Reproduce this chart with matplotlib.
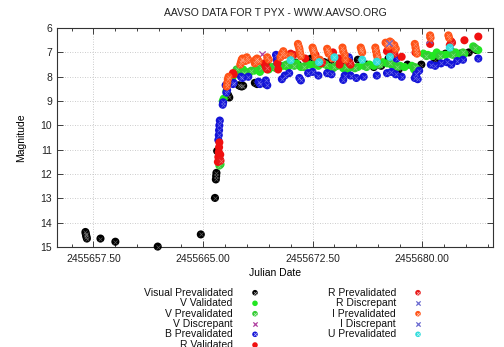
import matplotlib
matplotlib.use("Agg")
import matplotlib.pyplot as plt
from matplotlib.ticker import MultipleLocator, FormatStrFormatter

plt.rcParams['font.family'] = ['Liberation Sans', 'DejaVu Sans']

# Visual Prevalidated (black)
vis_jd = [2455656.95, 2455656.97, 2455657.0, 2455657.02, 2455657.05, 2455657.98, 2455659.0,
          2455661.9, 2455664.85, 2455665.82, 2455665.88, 2455665.9, 2455665.92, 2455665.97,
          2455666.72, 2455666.8, 2455667.45, 2455667.55, 2455667.65, 2455667.75, 2455668.55,
          2455668.7, 2455669.3, 2455669.5, 2455670.2, 2455670.8, 2455671.35, 2455671.5,
          2455672.4, 2455672.6, 2455673.3, 2455673.8, 2455674.3, 2455674.7, 2455675.6,
          2455676.2, 2455676.7, 2455677.2, 2455677.7, 2455678.4, 2455679.0, 2455679.95,
          2455680.9, 2455681.6, 2455682.0, 2455682.6, 2455683.2, 2455683.7]
vis_mag = [14.38, 14.45, 14.52, 14.58, 14.65, 14.65, 14.78,
           14.98, 14.48, 12.98, 12.22, 12.08, 11.95, 11.05,
           8.75, 8.85, 8.35, 8.38, 8.4, 8.37, 8.25,
           8.3, 8.3, 7.6, 7.55, 7.5, 7.42, 7.5,
           7.25, 7.35, 7.4, 7.3, 7.5, 7.45, 7.3,
           7.5, 7.6, 7.55, 7.25, 7.7, 7.5, 7.5,
           7.3, 7.05, 6.95, 7.05, 7.0, 6.9]

# V Validated (green)
vval_jd = [2455666.1, 2455666.2, 2455666.35, 2455666.42, 2455666.6, 2455667.0, 2455667.2,
           2455667.35, 2455667.55, 2455667.75, 2455667.95, 2455668.15, 2455668.5, 2455668.7,
           2455668.9, 2455669.2, 2455669.5, 2455669.75, 2455670.0, 2455670.3, 2455670.5,
           2455670.8, 2455671.1, 2455671.4, 2455671.7, 2455672.0, 2455672.3, 2455672.6,
           2455672.9, 2455673.2, 2455673.6, 2455673.9, 2455674.2, 2455674.6, 2455674.9,
           2455675.2, 2455675.6, 2455676.0, 2455676.4, 2455676.7, 2455677.0, 2455677.3,
           2455677.6, 2455677.9, 2455678.2, 2455678.5, 2455678.8, 2455679.3, 2455679.45,
           2455679.6, 2455680.1, 2455680.4, 2455680.7, 2455681.0, 2455681.3, 2455681.6,
           2455681.9, 2455682.3, 2455682.6, 2455682.9, 2455683.5, 2455683.7, 2455683.85]
vval_mag = [11.5, 11.6, 9.0, 8.9, 8.6, 8.05, 7.9,
            7.8, 7.75, 7.7, 7.8, 7.85, 7.75, 7.7,
            7.8, 7.65, 7.7, 7.6, 7.65, 7.55, 7.55,
            7.6, 7.5, 7.45, 7.6, 7.55, 7.5, 7.5,
            7.55, 7.45, 7.6, 7.65, 7.55, 7.65, 7.7,
            7.6, 7.6, 7.55, 7.5, 7.55, 7.45, 7.4,
            7.45, 7.5, 7.55, 7.55, 7.6, 7.55, 7.7,
            7.65, 7.05, 7.1, 7.15, 7.0, 7.1, 7.1,
            7.05, 7.0, 7.1, 7.05, 6.75, 6.85, 6.9]

# V Prevalidated (green, crossed)
vpre_jd = [2455666.12, 2455666.16, 2455667.3, 2455667.8, 2455668.3, 2455669.0, 2455669.9,
           2455670.7, 2455671.25, 2455671.9, 2455672.8, 2455673.4, 2455674.0, 2455674.8,
           2455675.4, 2455676.2, 2455677.1, 2455677.8, 2455678.3, 2455679.5, 2455680.3,
           2455681.2, 2455682.1, 2455682.8, 2455683.6]
vpre_mag = [11.65, 11.55, 7.7, 7.85, 7.75, 7.65, 7.6,
            7.5, 7.55, 7.6, 7.45, 7.5, 7.6, 7.6,
            7.65, 7.6, 7.5, 7.45, 7.6, 7.6, 7.15,
            7.15, 7.1, 7.0, 6.8]

# V Discrepant
vdis_jd = [2455669.05]
vdis_mag = [7.05]

# B Prevalidated (blue)
bpre_jd = [2455666.05, 2455666.08, 2455666.1, 2455666.12, 2455666.15, 2455666.35, 2455666.38,
           2455666.55, 2455666.6, 2455666.65, 2455667.05, 2455667.1, 2455667.6, 2455667.7,
           2455668.1, 2455668.8, 2455668.9, 2455669.3, 2455669.4, 2455670.0, 2455670.05,
           2455670.1, 2455670.4, 2455670.6, 2455670.9, 2455671.6, 2455671.7, 2455672.2,
           2455672.5, 2455672.9, 2455673.5, 2455673.8, 2455674.6, 2455674.7, 2455674.98,
           2455675.0, 2455675.1, 2455675.5, 2455676.0, 2455676.9, 2455677.6, 2455677.9,
           2455678.2, 2455678.25, 2455678.6, 2455679.5, 2455679.6, 2455679.7, 2455679.8,
           2455680.6, 2455680.9, 2455681.3, 2455681.7, 2455682.0, 2455682.4, 2455682.8,
           2455683.85]
bpre_mag = [10.6, 10.4, 10.2, 10.0, 9.8, 9.15, 9.05,
            8.35, 8.65, 8.55, 8.3, 8.25, 8.0, 8.05,
            8.0, 8.2, 8.3, 8.15, 8.35, 7.1, 7.3,
            7.45, 8.1, 7.95, 7.85, 8.05, 8.15, 7.85,
            7.8, 7.95, 7.85, 7.9, 8.13, 7.95, 7.2,
            7.3, 7.95, 8.05, 8.0, 7.95, 7.85, 7.8,
            7.9, 7.25, 8.0, 8.05, 7.9, 8.1, 7.75,
            7.5, 7.55, 7.45, 7.4, 7.5, 7.35, 7.3,
            7.25]

# R Validated (red)
rval_jd = [2455666.02, 2455666.05, 2455666.08, 2455666.1, 2455666.12, 2455666.15, 2455666.18,
           2455667.05, 2455667.1, 2455669.2, 2455669.3, 2455669.4, 2455670.1, 2455670.15,
           2455671.0, 2455671.2, 2455672.0, 2455672.7, 2455673.1, 2455673.9, 2455674.3,
           2455674.35, 2455675.0, 2455675.1, 2455677.6, 2455677.8, 2455677.9, 2455678.6,
           2455679.55, 2455680.55, 2455681.9, 2455682.0, 2455682.9, 2455683.85]
rval_mag = [11.5, 11.3, 11.1, 10.9, 10.7, 11.4, 11.2,
            7.85, 7.9, 7.45, 7.6, 7.7, 7.45, 7.7,
            7.05, 7.1, 7.25, 7.1, 7.45, 7.0, 7.25,
            7.5, 7.4, 7.5, 6.95, 7.0, 7.1, 7.18,
            7.0, 6.65, 6.7, 6.55, 6.5, 6.35]

# R Prevalidated (red, crossed)
rpre_jd = [2455666.2, 2455669.35, 2455671.1, 2455673.15, 2455675.05, 2455678.1, 2455682.05]
rpre_mag = [11.45, 7.65, 7.1, 7.4, 7.45, 7.05, 6.6]

# R Discrepant
rdis_jd = [2455680.5]
rdis_mag = [6.5]

# I Prevalidated (orange)
ipre_jd = [2455666.62, 2455666.66, 2455666.7, 2455666.75, 2455667.55, 2455667.6, 2455667.65,
           2455667.7, 2455667.9, 2455668.0, 2455668.1, 2455668.55, 2455668.6, 2455668.7,
           2455668.8, 2455669.4, 2455669.5, 2455670.3, 2455670.4, 2455670.5, 2455670.6,
           2455671.0, 2455671.5, 2455671.55, 2455671.6, 2455671.62, 2455671.65, 2455671.7,
           2455672.5, 2455672.55, 2455672.6, 2455672.7, 2455673.0, 2455673.5, 2455673.55,
           2455673.6, 2455673.85, 2455674.55, 2455674.6, 2455674.7, 2455674.75, 2455675.8,
           2455675.85, 2455675.9, 2455676.8, 2455676.85, 2455676.9, 2455676.95, 2455677.5,
           2455677.6, 2455677.7, 2455677.8, 2455677.9, 2455678.1, 2455678.2, 2455679.5,
           2455679.55, 2455679.6, 2455679.65, 2455680.55, 2455680.58, 2455681.8, 2455681.85]
ipre_mag = [8.4, 8.25, 8.1, 8.0, 7.5, 7.4, 7.3,
            7.25, 7.35, 7.2, 7.3, 7.45, 7.3, 7.25,
            7.35, 7.2, 7.3, 7.2, 7.05, 6.95, 7.1,
            7.15, 6.65, 6.75, 6.85, 6.95, 7.05, 7.15,
            6.8, 6.9, 7.0, 7.2, 7.3, 6.85, 6.95,
            7.05, 7.25, 6.8, 6.95, 7.1, 7.3, 6.8,
            6.9, 7.0, 6.8, 6.95, 7.1, 7.2, 6.6,
            6.65, 6.75, 6.55, 6.6, 6.7, 6.85, 6.65,
            6.8, 6.95, 7.05, 6.3, 6.4, 6.3, 6.4]

# I Discrepant
idis_jd = [2455677.75]
idis_mag = [6.6]

# U Prevalidated (cyan)
upre_jd = [2455671.0, 2455672.95, 2455674.0, 2455675.9, 2455676.9, 2455677.8, 2455681.9]
upre_mag = [7.32, 7.4, 7.2, 7.3, 7.38, 7.18, 6.8]

series = [
    ("Visual Prevalidated", vis_jd, vis_mag, "#000000", "pre"),
    ("V Validated", vval_jd, vval_mag, "#22e622", "val"),
    ("V Prevalidated", vpre_jd, vpre_mag, "#33cc33", "pre"),
    ("V Discrepant", vdis_jd, vdis_mag, "#b040a0", "dis"),
    ("B Prevalidated", bpre_jd, bpre_mag, "#1414d8", "pre"),
    ("R Validated", rval_jd, rval_mag, "#f01010", "val"),
    ("R Prevalidated", rpre_jd, rpre_mag, "#e81818", "pre"),
    ("R Discrepant", rdis_jd, rdis_mag, "#6a6ad0", "dis"),
    ("I Prevalidated", ipre_jd, ipre_mag, "#ff5216", "pre"),
    ("I Discrepant", idis_jd, idis_mag, "#6a6ad0", "dis"),
    ("U Prevalidated", upre_jd, upre_mag, "#30dcdc", "pre"),
]

fig = plt.figure(figsize=(5.04, 3.47), dpi=100)
ax = fig.add_axes([0.113, 0.288, 0.865, 0.631])


def draw(ax, x, y, color, kind, s=34, cross_alpha=0.35, **kw):
    if kind == "dis":
        ax.scatter(x, y, marker="x", s=s * 0.6, color=color, linewidths=0.9, **kw)
    elif kind == "val":
        ax.scatter(x, y, marker="o", s=s, color=color, edgecolors="none", **kw)
    else:
        ax.scatter(x, y, marker="o", s=s, color=color, edgecolors="none", **kw)
        ax.scatter(x, y, marker="x", s=s * 0.25, color="white", linewidths=0.5,
                   alpha=cross_alpha, **kw)


for name, x, y, c, kind in series:
    draw(ax, x, y, c, kind, clip_on=False, zorder=3)

ax.set_xlim(2455655.0, 2455684.85)
ax.set_ylim(15, 6)
ax.xaxis.set_major_locator(MultipleLocator(7.5))
ax.xaxis.set_minor_locator(MultipleLocator(1.5))
ax.xaxis.set_major_formatter(FormatStrFormatter("%.2f"))
ax.yaxis.set_major_locator(MultipleLocator(1))
ax.tick_params(which="both", direction="in", top=True, right=True, labelsize=7.5,
               colors="#222222", width=0.6)
ax.tick_params(which="major", length=4)
ax.tick_params(which="minor", length=2.5)
ax.tick_params(axis="x", pad=5)
ax.grid(True, which="major", linestyle=(0, (1, 2)), color="#bbbbbb", linewidth=0.6)
for sp in ax.spines.values():
    sp.set_color("#333333")
    sp.set_linewidth(0.8)

ax.set_xlabel("Julian Date", fontsize=7.5, labelpad=3)
ax.set_ylabel("Magnitude", fontsize=7.5, labelpad=10)
fig.text(0.546, 0.9625, "AAVSO DATA FOR T PYX - WWW.AAVSO.ORG", ha="center", va="center",
         fontsize=7.5, color="#222222")

# legend, two columns, labels right aligned, markers to the right
W, H = 504.0, 347.0
row_y = [292.7, 303.3, 313.7, 324.0, 334.3, 345.0]
cols = [(232.7, 255.0), (396.0, 418.0)]
for i, (name, x, y, c, kind) in enumerate(series):
    col = 0 if i < 6 else 1
    row = i if i < 6 else i - 6
    tx, mx = cols[col]
    yy = 1 - row_y[row] / H
    fig.text(tx / W, yy, name, ha="right", va="center", fontsize=7.5, color="#111111")
    draw(ax, [mx / W], [yy], c, kind, s=16, cross_alpha=0.7, transform=fig.transFigure,
         clip_on=False, zorder=5)

fig.savefig("out.png", dpi=100)
